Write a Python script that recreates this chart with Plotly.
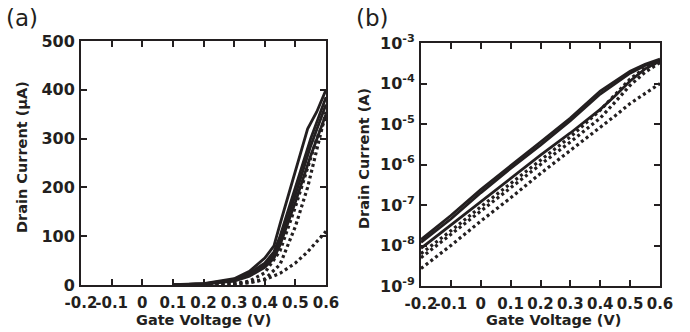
import plotly.graph_objects as go

# ---------------- Panel (a): linear scale, drain current in µA ----------------
va_top = [0.10, 0.20, 0.30, 0.35, 0.40, 0.43, 0.45, 0.50, 0.54, 0.57, 0.60]
ia_top = [0.5, 3, 13, 28, 55, 80, 125, 235, 320, 355, 400]

va_b = [0.10, 0.20, 0.30, 0.35, 0.40, 0.43, 0.45, 0.50, 0.55, 0.60]
ia_b1 = [0.4, 2.5, 11, 24, 45, 68, 100, 200, 300, 385]
ia_b2 = [0.3, 2, 9, 21, 40, 62, 92, 185, 285, 370]
ia_b3 = [0.3, 2, 8, 18, 36, 55, 82, 170, 265, 350]

va_d = [0.20, 0.30, 0.35, 0.40, 0.45, 0.50, 0.54, 0.57, 0.60]
ia_d1 = [0.5, 3, 8, 25, 70, 160, 240, 300, 345]
ia_d2 = [0.3, 2, 5, 12, 42, 120, 200, 280, 355]
ia_d3 = [0.3, 2, 5, 11, 24, 45, 68, 88, 110]

# ---------------- Panel (b): log scale, drain current in A ----------------
vb = [-0.2, -0.1, 0.0, 0.1, 0.2, 0.3, 0.4, 0.45, 0.5, 0.55, 0.6]
ib_s1 = [1.2e-8, 4.5e-8, 2.0e-7, 8.0e-7, 3.0e-6, 1.2e-5, 5.5e-5, 1.0e-4, 1.8e-4, 2.8e-4, 3.8e-4]
ib_s1b = [1.4e-8, 5.5e-8, 2.4e-7, 9.5e-7, 3.6e-6, 1.4e-5, 6.5e-5, 1.15e-4, 2.0e-4, 3.0e-4, 4.0e-4]
ib_s2 = [8.5e-9, 3.2e-8, 1.2e-7, 4.5e-7, 1.7e-6, 6.0e-6, 2.3e-5, 5.0e-5, 1.15e-4, 2.3e-4, 3.6e-4]
ib_d1 = [6.3e-9, 2.3e-8, 9.0e-8, 3.4e-7, 1.3e-6, 4.8e-6, 2.2e-5, 5.5e-5, 1.3e-4, 2.4e-4, 3.5e-4]
ib_d2 = [5.0e-9, 1.9e-8, 7.0e-8, 2.7e-7, 1.0e-6, 3.6e-6, 1.4e-5, 3.5e-5, 9.0e-5, 1.9e-4, 3.3e-4]
ib_d3 = [2.7e-9, 1.0e-8, 4.0e-8, 1.5e-7, 6.0e-7, 2.2e-6, 8.0e-6, 1.6e-5, 3.2e-5, 5.8e-5, 1.0e-4]

x_ticks = [-0.2, -0.1, 0, 0.1, 0.2, 0.3, 0.4, 0.5, 0.6]
x_ticktext = ["-0.2", "-0.1", "0", "0.1", "0.2", "0.3", "0.4", "0.5", "0.6"]
ya_ticks = [0, 100, 200, 300, 400, 500]
yb_ticks = [1e-9, 1e-8, 1e-7, 1e-6, 1e-5, 1e-4, 1e-3]
yb_ticktext = ["10<sup>-9</sup>", "10<sup>-8</sup>", "10<sup>-7</sup>", "10<sup>-6</sup>",
               "10<sup>-5</sup>", "10<sup>-4</sup>", "10<sup>-3</sup>"]

INK = "#231f20"
SOLID = dict(color=INK, width=2.8)
DOT = dict(color=INK, width=3.2, dash="3px,3px")

fig = go.Figure()

def add(x, y, line, xa, ya):
    fig.add_trace(go.Scatter(x=x, y=y, mode="lines", line=line, xaxis=xa, yaxis=ya,
                             showlegend=False, hoverinfo="skip"))

# panel a
add(va_top, ia_top, SOLID, "x", "y")
add(va_b, ia_b1, SOLID, "x", "y")
add(va_b, ia_b2, SOLID, "x", "y")
add(va_b, ia_b3, SOLID, "x", "y")
add(va_d, ia_d1, DOT, "x", "y")
add(va_d, ia_d2, DOT, "x", "y")
add(va_d, ia_d3, DOT, "x", "y")

# panel b
add(vb, ib_s1, SOLID, "x2", "y2")
add(vb, ib_s1b, SOLID, "x2", "y2")
add(vb, ib_s2, SOLID, "x2", "y2")
add(vb, ib_d1, DOT, "x2", "y2")
add(vb, ib_d2, DOT, "x2", "y2")
add(vb, ib_d3, DOT, "x2", "y2")

W, H = 690, 332
XTICKFONT = dict(family="DejaVu Sans", size=15, color=INK, weight="bold")
YTICKFONT = dict(family="DejaVu Sans", size=16, color=INK, weight="bold")

axis_common = dict(showline=True, linecolor=INK, linewidth=2, mirror="ticks",
                   ticks="inside", ticklen=6, tickwidth=2, tickcolor=INK,
                   showgrid=False, zeroline=False, tickangle=0,
                   automargin=False)

fig.update_layout(
    template="none",
    width=W, height=H, margin=dict(l=0, r=0, t=0, b=0, autoexpand=False),
    paper_bgcolor="white", plot_bgcolor="white",
    xaxis=dict(domain=[81 / W, 326 / W], range=[-0.2, 0.6], tickvals=x_ticks,
               ticktext=x_ticktext, anchor="y", ticklabelstandoff=3,
               tickfont=XTICKFONT, **axis_common),
    yaxis=dict(domain=[(H - 285) / H, (H - 41) / H], range=[0, 500], tickvals=ya_ticks,
               anchor="x", ticklabelstandoff=1, tickfont=YTICKFONT, **axis_common),
    xaxis2=dict(domain=[421 / W, 660 / W], range=[-0.2, 0.6], tickvals=x_ticks,
                ticktext=x_ticktext, anchor="y2", ticklabelstandoff=3,
                tickfont=XTICKFONT, **axis_common),
    yaxis2=dict(domain=[(H - 286) / H, (H - 43) / H], type="log", range=[-9, -3],
                tickvals=yb_ticks, ticktext=yb_ticktext, anchor="x2",
                ticklabelstandoff=1, tickfont=YTICKFONT, **axis_common),
)

TITLEFONT = dict(family="DejaVu Sans", size=14.5, color=INK, weight="bold")
ann = [
    dict(text="(a)", x=4, y=H - 3, xanchor="left", yanchor="top",
         font=dict(family="DejaVu Sans", size=23, color=INK)),
    dict(text="(b)", x=354, y=H - 3, xanchor="left", yanchor="top",
         font=dict(family="DejaVu Sans", size=23, color=INK)),
    dict(text="Drain Current (μA)", x=22, y=H - 157, textangle=-90,
         xanchor="center", yanchor="middle", font=TITLEFONT),
    dict(text="Drain Current (A)", x=364, y=H - 159, textangle=-90,
         xanchor="center", yanchor="middle", font=TITLEFONT),
    dict(text="Gate Voltage (V)", x=203, y=H - 320, xanchor="center",
         yanchor="middle", font=TITLEFONT),
    dict(text="Gate Voltage (V)", x=553, y=H - 320, xanchor="center",
         yanchor="middle", font=TITLEFONT),
]
for a in ann:
    a.update(xref="paper", yref="paper", showarrow=False)
    a["x"] = a["x"] / W
    a["y"] = a["y"] / H
fig.update_layout(annotations=ann)

fig.write_html("out.html")
